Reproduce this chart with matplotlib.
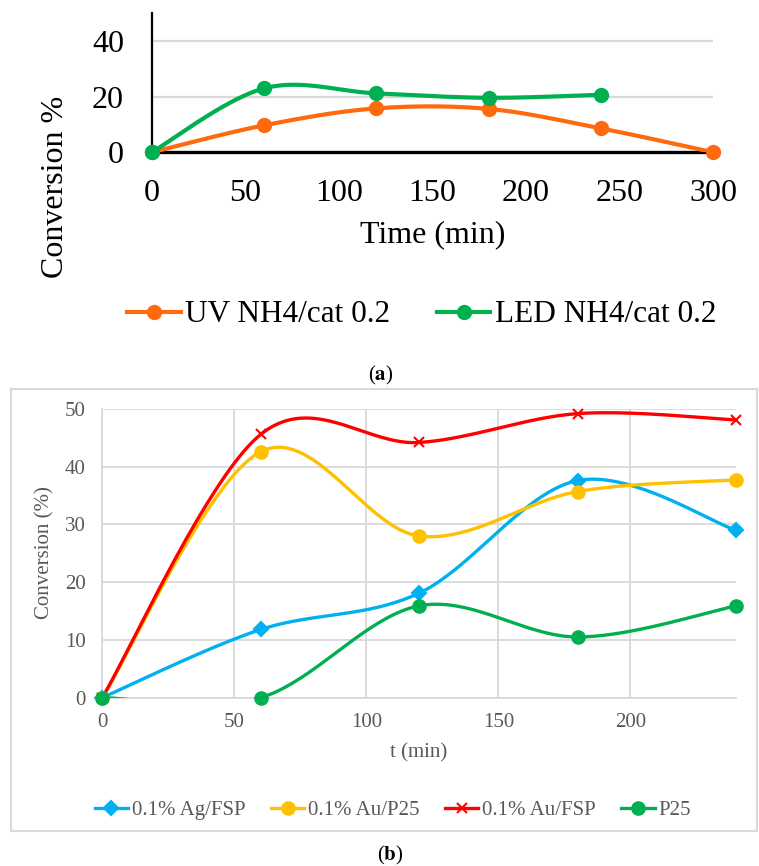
import numpy as np
import matplotlib
matplotlib.use('Agg')
import matplotlib.pyplot as plt
from matplotlib.lines import Line2D
from matplotlib.patches import Rectangle

plt.rcParams['font.family'] = ['Liberation Serif', 'DejaVu Serif']
plt.rcParams['mathtext.fontset'] = 'stix'

# ---- data, panel (a)
t_a = [0, 60, 120, 180, 240, 300]
uv = [0, 9.7, 15.8, 15.6, 8.6, 0]
t_led = [0, 60, 120, 180, 240]
led = [0, 23.0, 21.2, 19.6, 20.7]
a_xticks = [0, 50, 100, 150, 200, 250, 300]
a_yticks = [0, 20, 40]

# ---- data, panel (b)
t_b = [0, 60, 120, 180, 240]
ag_fsp = [0, 11.8, 18.1, 37.6, 29.0]
au_p25 = [0, 42.6, 28.0, 35.7, 37.7]
au_fsp = [0, 45.6, 44.2, 49.2, 48.1]
p25 = [0, 0, 15.9, 10.5, 15.9]
b_xticks = [0, 50, 100, 150, 200]
b_yticks = [0, 10, 20, 30, 40, 50]

W, H = 759, 866


def fx(px):
    return px / W


def fy(py):
    return 1 - py / H


def smooth(x, y, n=40):
    # Catmull-Rom like Bezier smoothing (what a spreadsheet "smoothed line" does)
    p = np.column_stack([x, y]).astype(float)
    p = np.vstack([p[0], p, p[-1]])
    out = []
    s = np.linspace(0, 1, n)[:, None]
    for i in range(1, len(p) - 2):
        p0, p1, p2, p3 = p[i - 1], p[i], p[i + 1], p[i + 2]
        c1 = p1 + (p2 - p0) / 6
        c2 = p2 - (p3 - p1) / 6
        seg = ((1 - s) ** 3 * p1 + 3 * (1 - s) ** 2 * s * c1
               + 3 * (1 - s) * s ** 2 * c2 + s ** 3 * p2)
        out.append(seg if i == 1 else seg[1:])
    out = np.vstack(out)
    return out[:, 0], out[:, 1]


fig = plt.figure(figsize=(W / 100, H / 100), dpi=100)

# ================= panel (a)
x0, x1 = 151.7, 713.3
y0, y50 = 152.3, 13.3
ax = fig.add_axes([fx(x0), fy(y0), fx(x1 - x0), (y0 - y50) / H])
ax.set_xlim(0, 300)
ax.set_ylim(0, 50)
for yv in a_yticks[1:]:
    ax.axhline(yv, color='#d9d9d9', lw=1.6, zorder=1)
orange = '#FF6A0E'
green = '#00B050'
xs, ys = smooth(t_a, uv)
ax.plot(xs, ys, color=orange, lw=3, zorder=3, solid_capstyle='round')
ax.plot(t_a, uv, 'o', color=orange, ms=10, zorder=4, clip_on=False)
xs, ys = smooth(t_led, led)
ax.plot(xs, ys, color=green, lw=3, zorder=3, solid_capstyle='round')
ax.plot(t_led, led, 'o', color=green, ms=10, zorder=4, clip_on=False)
ax.set_xticks(a_xticks)
ax.set_yticks(a_yticks)
ax.tick_params(length=0, labelsize=23, pad=19)
ax.tick_params(axis='y', pad=20)
for s in ['top', 'right']:
    ax.spines[s].set_visible(False)
ax.spines['bottom'].set_linewidth(2.4)
ax.spines['bottom'].set_zorder(2)
ax.spines['left'].set_linewidth(1.6)
ax.patch.set_visible(False)
fig.text(fx(56), fy(187), 'Conversion %', rotation=90, fontsize=23,
         ha='center', va='center')
fig.text(fx(433), fy(235), 'Time (min)', fontsize=23, ha='center', va='center')
h_a = [Line2D([], [], color=orange, lw=3, marker='o', ms=10),
       Line2D([], [], color=green, lw=3, marker='o', ms=10)]
fig.legend(h_a, ['UV NH4/cat 0.2', 'LED NH4/cat 0.2'], loc='center',
           bbox_to_anchor=(fx(422), fy(315)), ncol=2, frameon=False,
           fontsize=22.5, handlelength=1.7, handletextpad=0.15,
           columnspacing=1.5, borderpad=0)
fig.text(fx(381), fy(375), r'($\mathbf{a}$)', fontsize=15,
         ha='center', va='center')

# ================= panel (b)
fig.patches.append(Rectangle((fx(10.5), fy(831)), fx(757 - 10.5), (831 - 389) / H,
                             transform=fig.transFigure, fill=False,
                             ec='#d9d9d9', lw=1.5))
bx0, bx1 = 102.3, 736.0
by0, by50 = 697.6, 409.0
bx = fig.add_axes([fx(bx0), fy(by0), fx(bx1 - bx0), (by0 - by50) / H])
bx.set_xlim(0, 240)
bx.set_ylim(0, 50)
bx.set_xticks(b_xticks)
bx.set_yticks(b_yticks)
bx.grid(True, color='#d9d9d9', lw=1.3)
bx.set_axisbelow(True)
for s in ['top', 'right']:
    bx.spines[s].set_visible(False)
for s in ['bottom', 'left']:
    bx.spines[s].set_color('#d9d9d9')
    bx.spines[s].set_linewidth(1.3)
gray = '#595959'
bx.tick_params(length=0, labelsize=15, colors=gray, pad=11)
bx.tick_params(axis='y', pad=12)
bx.patch.set_visible(False)

series = [
    (ag_fsp, '#00B0F0', 'D', 7, '0.1% Ag/FSP'),
    (au_p25, '#FFC000', 'o', 9, '0.1% Au/P25'),
    (au_fsp, '#FF0000', 'x', 7, '0.1% Au/FSP'),
    (p25, '#00B050', 'o', 9, 'P25'),
]
handles = []
for vals, col, mk, ms, lab in series:
    xs, ys = smooth(t_b, vals)
    bx.plot(xs, ys, color=col, lw=2.4, zorder=3)
    bx.plot(t_b, vals, ls='none', marker=mk, color=col, ms=ms, mew=1.5,
            zorder=4, clip_on=False)
    handles.append(Line2D([], [], color=col, lw=2.4, marker=mk, ms=ms, mew=1.5))
fig.text(fx(45), fy(553), 'Conversion (%)', rotation=90, fontsize=15,
         color=gray, ha='center', va='center')
fig.text(fx(419), fy(753), 't (min)', fontsize=15, color=gray,
         ha='center', va='center')
fig.legend(handles, [s[4] for s in series], loc='center',
           bbox_to_anchor=(fx(393), fy(810)), ncol=4, frameon=False,
           fontsize=15, labelcolor=gray, handlelength=1.6,
           handletextpad=0.2, columnspacing=1.2, borderpad=0)
fig.text(fx(390), fy(855), r'($\mathbf{b}$)', fontsize=15,
         ha='center', va='center')

fig.savefig('out.png', dpi=100)
